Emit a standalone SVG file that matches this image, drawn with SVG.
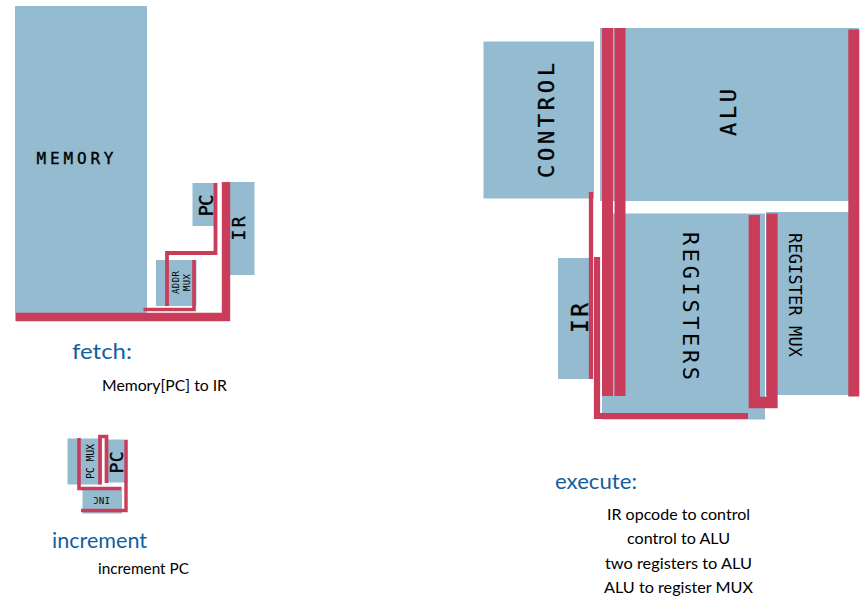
<svg xmlns="http://www.w3.org/2000/svg" width="863" height="600" viewBox="0 0 863 600">
<style>
.box{fill:#94bbcf}
.w{fill:none;stroke:#c93c5a;stroke-linejoin:miter;stroke-linecap:butt}
.l{font-family:"DejaVu Sans Mono","Liberation Mono",monospace;fill:#000;text-anchor:middle;dominant-baseline:central}
.s{stroke:#000;stroke-width:.35px}
.h{font-family:"Lato","Open Sans",sans-serif;fill:#11609f;font-size:21px}
.t{font-family:"Lato","Open Sans",sans-serif;fill:#000;font-size:15px}
</style>
<rect width="863" height="600" fill="#fff"/>
<g id="memory"><rect class="box" x="15" y="6" width="132" height="315"/><text class="l s" x="75" y="158" font-size="16" textLength="77" lengthAdjust="spacing">MEMORY</text></g>
<g id="pc-fetch"><rect class="box" x="192.500" y="183" width="22" height="43"/><text class="l s" transform="translate(205.500 205.500) rotate(-90)" font-size="19" textLength="22" lengthAdjust="spacing">PC</text></g>
<g id="ir-fetch"><rect class="box" x="228" y="182" width="26.500" height="93"/><text class="l s" transform="translate(238 228.500) rotate(-90)" font-size="18" textLength="24" lengthAdjust="spacing">IR</text></g>
<g id="addr-mux"><rect class="box" x="156" y="260" width="40.500" height="46"/><text class="l" transform="translate(175.500 282.500) rotate(-90)" font-size="9" textLength="23" lengthAdjust="spacing">ADDR</text><text class="l" transform="translate(186.500 282.500) rotate(-90)" font-size="9" textLength="17" lengthAdjust="spacing">MUX</text></g>
<g id="pc-mux"><rect class="box" x="67.500" y="438.500" width="34.500" height="46"/><text class="l" transform="translate(90 461.500) rotate(-90)" font-size="10" textLength="35" lengthAdjust="spacing">PC MUX</text></g>
<g id="pc-inc"><rect class="box" x="106" y="439.500" width="21.500" height="43"/><text class="l s" transform="translate(116 462.500) rotate(-90)" font-size="18" textLength="22" lengthAdjust="spacing">PC</text></g>
<g id="inc"><rect class="box" x="82.500" y="490" width="39.500" height="23.500"/><text class="l" transform="translate(101.500 500) rotate(180)" font-size="9" textLength="17" lengthAdjust="spacing">INC</text></g>
<g id="control"><rect class="box" x="483.500" y="41.500" width="110.500" height="157"/><text class="l s" transform="translate(546 120.500) rotate(-90)" font-size="22" textLength="115" lengthAdjust="spacing">CONTROL</text></g>
<g id="alu"><rect class="box" x="600" y="28" width="259" height="173"/><text class="l s" transform="translate(728 112.500) rotate(-90)" font-size="22" textLength="47" lengthAdjust="spacing">ALU</text></g>
<g id="ir-exec"><rect class="box" x="558" y="258" width="32" height="121"/><text class="l s" transform="translate(580 318) rotate(-90)" font-size="23" textLength="30" lengthAdjust="spacing">IR</text></g>
<g id="registers"><rect class="box" x="602" y="213.500" width="163" height="206"/><text class="l" transform="translate(690 306) rotate(90)" font-size="22" textLength="148" lengthAdjust="spacing">REGISTERS</text></g>
<g id="register-mux"><rect class="box" x="766" y="212" width="93" height="183"/><text class="l" transform="translate(794.500 295) rotate(90)" font-size="17" textLength="124" lengthAdjust="spacing">REGISTER MUX</text></g>
<g id="connectors">
<polyline class="w" stroke-width="8.400" points="16,317 226,317 226,182"/>
<polyline class="w" stroke-width="3.800" points="215.500,183 215.500,253 167,253 167,306"/>
<polyline class="w" stroke-width="3.600" points="194,260 194,309.500 143.500,309.500"/>
<polyline class="w" stroke-width="3.600" points="79,438 79,488.500 121.500,488.500"/>
<polyline class="w" stroke-width="3.700" points="100,484.500 100,436.500 106.500,436.500 106.500,483"/>
<polyline class="w" stroke-width="3.400" points="126,440 126,510.500 81,510.500"/>
<line class="w" stroke-width="4.300" x1="591" y1="192" x2="591" y2="379"/>
<polyline class="w" stroke-width="6.200" points="597,257 597,416 748,416"/>
<line class="w" stroke-width="11" x1="607.500" y1="28" x2="607.500" y2="396"/>
<line class="w" stroke-width="11" x1="620" y1="28" x2="620" y2="396"/>
<line class="w" stroke-width="11" x1="853.800" y1="29.500" x2="853.800" y2="396.500"/>
<polyline class="w" stroke-width="11.300" points="754.300,215 754.300,402.500 772,402.500 772,213.500"/>
</g>
<g id="labels">
<text class="h" x="72" y="359" textLength="60" lengthAdjust="spacingAndGlyphs">fetch:</text>
<text class="t" x="102" y="391" textLength="125" lengthAdjust="spacingAndGlyphs">Memory[PC] to IR</text>
<text class="h" x="52" y="548" textLength="95" lengthAdjust="spacingAndGlyphs">increment</text>
<text class="t" x="98" y="574" textLength="91" lengthAdjust="spacingAndGlyphs">increment PC</text>
<text class="h" x="555" y="489" textLength="82" lengthAdjust="spacingAndGlyphs">execute:</text>
<text class="t" x="607" y="520" textLength="143" lengthAdjust="spacingAndGlyphs">IR opcode to control</text>
<text class="t" x="627" y="544" textLength="103" lengthAdjust="spacingAndGlyphs">control to ALU</text>
<text class="t" x="605" y="569" textLength="147" lengthAdjust="spacingAndGlyphs">two registers to ALU</text>
<text class="t" x="604" y="593" textLength="149" lengthAdjust="spacingAndGlyphs">ALU to register MUX</text>
</g>
</svg>
